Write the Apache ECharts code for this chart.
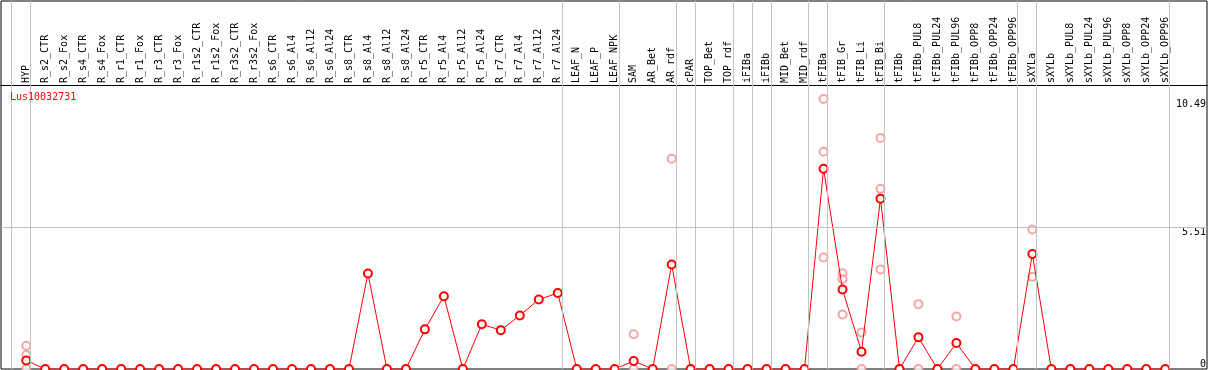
<!DOCTYPE html>
<html>
<head>
<meta charset="utf-8">
<script src="https://cdn.jsdelivr.net/npm/echarts@6/dist/echarts.min.js"></script>
<style>
html,body{margin:0;padding:0;background:#fff;}
#main{width:1209px;height:370px;}
</style>
</head>
<body>
<div id="main"></div>
<script>
// 样本名
var categories = ['HYP','R_s2_CTR','R_s2_Fox','R_s4_CTR','R_s4_Fox','R_r1_CTR','R_r1_Fox','R_r3_CTR','R_r3_Fox',
	'R_r1s2_CTR','R_r1s2_Fox','R_r3s2_CTR','R_r3s2_Fox','R_s6_CTR','R_s6_Al4','R_s6_Al12','R_s6_Al24',
	'R_s8_CTR','R_s8_Al4','R_s8_Al12','R_s8_Al24','R_r5_CTR','R_r5_Al4','R_r5_Al12','R_r5_Al24',
	'R_r7_CTR','R_r7_Al4','R_r7_Al12','R_r7_Al24','LEAF_N','LEAF_P','LEAF_NPK','SAM','AR_Bet','AR_rdf',
	'cPAR','TOP_Bet','TOP_rdf','iFIBa','iFIBb','MID_Bet','MID_rdf','tFIBa','tFIB_Gr','tFIB_Li','tFIB_Bi',
	'tFIBb','tFIBb_PUL8','tFIBb_PUL24','tFIBb_PUL96','tFIBb_OPP8','tFIBb_OPP24','tFIBb_OPP96',
	'sXYLa','sXYLb','sXYLb_PUL8','sXYLb_PUL24','sXYLb_PUL96','sXYLb_OPP8','sXYLb_OPP24','sXYLb_OPP96'];

// 平均值
var meanValues = [0.33, 0,0,0,0,0,0,0,0,0,0,0,0,0,0,0,0,
	0, 3.71, 0, 0, 1.54, 2.83, 0, 1.74, 1.51, 2.08, 2.70, 2.95,
	0, 0, 0, 0.31, 0, 4.06, 0, 0, 0, 0, 0, 0, 0,
	7.78, 3.09, 0.67, 6.62, 0, 1.23, 0, 1.01, 0, 0, 0,
	4.47, 0, 0, 0, 0, 0, 0, 0];

// 重复样本 (样本序号, 值)
var repIndex = [0, 0, 0, 32, 32, 34, 34, 42, 42, 42, 43, 43, 43, 44, 44, 45, 45, 45, 47, 47, 49, 49, 53, 53];
var repValue = [0.9, 0.54, 0, 1.35, 0, 8.17, 0, 10.49, 8.44, 4.33, 3.72, 3.49, 2.12, 1.42, 0, 8.98, 7.0, 3.87, 2.52, 0, 2.04, 0, 5.42, 3.58];

// 分组线 (在这些样本之后)
var dividerAfter = [-1, 0, 28, 31, 34, 35, 37, 38, 39, 41, 42, 45, 52, 53, 60];

var yLabels = [0, 5.51, 10.49];
var geneName = 'Lus10032731';

var FONT = '"DejaVu Sans Mono", monospace';

var labelIdx = [];
var meanData = [];
for (var i = 0; i < categories.length; i++) {
	labelIdx.push(i);
	meanData.push([i, meanValues[i]]);
}
var repData = [];
for (var j = 0; j < repIndex.length; j++) {
	repData.push([repIndex[j], repValue[j]]);
}
var dividerLines = [];
for (var k = 0; k < dividerAfter.length; k++) {
	dividerLines.push({xAxis: dividerAfter[k] + 0.22});
}

var myChart = echarts.init(document.getElementById('main'), null, {renderer: 'canvas'});
var option = {
	animation: false,
	title: {
		text: geneName,
		left: 10,
		top: 92,
		padding: 0,
		textStyle: {color: '#ff0000', fontSize: 10, fontWeight: 'normal', fontFamily: FONT}
	},
	grid: {
		left: 1, right: 1, top: 1, bottom: 1,
		containLabel: false,
		show: true,
		borderColor: '#000',
		borderWidth: 1
	},
	xAxis: {
		type: 'value',
		position: 'top',
		offset: -84,
		min: -1.33,
		max: 62.2,
		axisLine: {show: true, onZero: false, lineStyle: {color: '#000', width: 1}},
		axisTick: {show: false},
		splitLine: {show: false},
		axisLabel: {
			customValues: labelIdx,
			rotate: -90,
			margin: 2,
			color: '#000',
			fontSize: 10,
			fontFamily: FONT,
			formatter: function (v) {
				return categories[Math.round(v)] || '';
			}
		}
	},
	yAxis: {
		type: 'value',
		position: 'right',
		min: 0,
		max: 14.3,
		axisLine: {show: false},
		axisTick: {show: false},
		splitLine: {show: false},
		axisLabel: {
			customValues: yLabels,
			inside: true,
			margin: 1,
			color: '#000',
			fontSize: 10,
			fontFamily: FONT,
			verticalAlign: 'top',
			verticalAlignMinLabel: 'bottom',
			formatter: function (v) { return String(v); }
		}
	},
	series: [
		{
			// 分组线和5.51横线
			type: 'line',
			data: [],
			silent: true,
			markLine: {
				silent: true,
				symbol: ['none', 'none'],
				label: {show: false},
				lineStyle: {color: '#c4c4c4', width: 1, type: 'solid'},
				data: dividerLines.concat([{yAxis: 5.51}])
			}
		},
		{
			name: 'rep',
			type: 'scatter',
			data: repData,
			symbol: 'emptyCircle',
			symbolSize: 8,
			itemStyle: {color: '#f29090', borderColor: '#f29090', borderWidth: 1.3},
			z: 3
		},
		{
			name: 'mean',
			type: 'line',
			data: meanData,
			symbol: 'emptyCircle',
			symbolSize: 8,
			lineStyle: {color: '#ff0000', width: 1},
			itemStyle: {color: '#ff0000', borderColor: '#e00000', borderWidth: 1.6},
			z: 4
		}
	]
};
myChart.setOption(option);
</script>
</body>
</html>
